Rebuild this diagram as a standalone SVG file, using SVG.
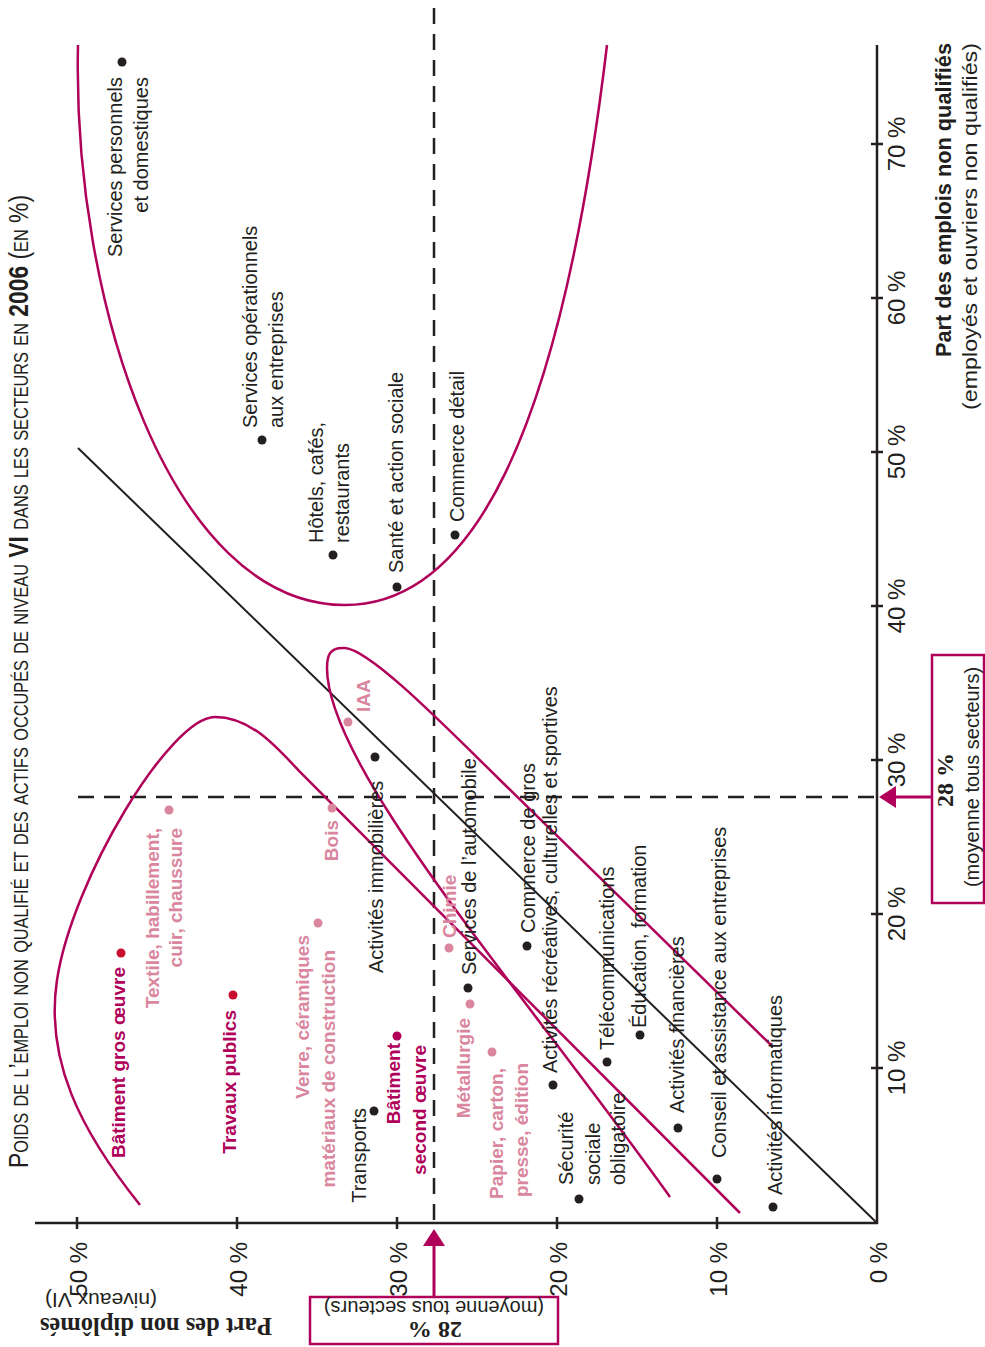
<svg xmlns="http://www.w3.org/2000/svg" width="985" height="1347" viewBox="0 0 985 1347">
<defs>
<style>
.lbl{font-family:"Liberation Sans",Arial,sans-serif;font-size:20px;fill:#231f20}
.pk{font-family:"Liberation Sans",Arial,sans-serif;font-size:19px;font-weight:bold;fill:#d9869e}
.mg{font-family:"Liberation Sans",Arial,sans-serif;font-size:19px;font-weight:bold;fill:#b0005a}
.tick{font-family:"Liberation Sans",Arial,sans-serif;font-size:24px;fill:#231f20}
.ser{font-family:"Liberation Serif","Times New Roman",serif;font-weight:bold;fill:#231f20}
.dot{fill:#231f20}
.dpk{fill:#d9869e}
.dred{fill:#c8102e}
.dmg{fill:#b0005a}
.curve{fill:none;stroke:#b0005a;stroke-width:2.5}
.axis{fill:none;stroke:#231f20;stroke-width:2.5}
.dash{fill:none;stroke:#231f20;stroke-width:2.5;stroke-dasharray:16 10}
.box{fill:#fff;stroke:#b0005a;stroke-width:2.5}
</style>
</defs>
<rect width="985" height="1347" fill="#fff"/>

<!-- title -->
<text id="title" transform="translate(28,1168) rotate(-90)" textLength="973" lengthAdjust="spacingAndGlyphs" style="font-family:'Liberation Sans Narrow','Liberation Sans',Arial,sans-serif;font-size:28px;font-variant:small-caps;fill:#231f20">Poids de l’emploi non qualifié et des actifs occupés de niveau <tspan font-weight="bold">VI</tspan> dans les secteurs en <tspan font-weight="bold">2006</tspan> (en %)</text>

<!-- axes -->
<g id="axes">
<line class="axis" x1="877" y1="45" x2="877" y2="1224"/>
<line class="axis" x1="35" y1="1223" x2="878" y2="1223"/>
<g stroke="#231f20" stroke-width="2.5">
<line x1="871" y1="1068" x2="883" y2="1068"/><line x1="871" y1="914" x2="883" y2="914"/><line x1="871" y1="760" x2="883" y2="760"/><line x1="871" y1="606" x2="883" y2="606"/><line x1="871" y1="452" x2="883" y2="452"/><line x1="871" y1="298" x2="883" y2="298"/><line x1="871" y1="144" x2="883" y2="144"/>
<line x1="717" y1="1217" x2="717" y2="1229"/><line x1="557" y1="1217" x2="557" y2="1229"/><line x1="397" y1="1217" x2="397" y2="1229"/><line x1="237" y1="1217" x2="237" y2="1229"/><line x1="77" y1="1217" x2="77" y2="1229"/>
</g>
<g class="tick" text-anchor="middle">
<text transform="translate(905,1068) rotate(-90)">10 %</text>
<text transform="translate(905,914) rotate(-90)">20 %</text>
<text transform="translate(905,760) rotate(-90)">30 %</text>
<text transform="translate(905,606) rotate(-90)">40 %</text>
<text transform="translate(905,452) rotate(-90)">50 %</text>
<text transform="translate(905,298) rotate(-90)">60 %</text>
<text transform="translate(905,144) rotate(-90)">70 %</text>
</g>
<g class="tick" text-anchor="end">
<text transform="translate(887,1242) rotate(-90)">0 %</text>
<text transform="translate(727,1242) rotate(-90)">10 %</text>
<text transform="translate(567,1242) rotate(-90)">20 %</text>
<text transform="translate(407,1242) rotate(-90)">30 %</text>
<text transform="translate(247,1242) rotate(-90)">40 %</text>
<text transform="translate(87,1242) rotate(-90)">50 %</text>
</g>
<text transform="translate(951,357) rotate(-90)" textLength="314" lengthAdjust="spacingAndGlyphs" style="font-family:'Liberation Sans',Arial,sans-serif;font-size:22px;font-weight:bold;fill:#231f20">Part des emplois non qualifiés</text>
<text transform="translate(977,410) rotate(-90)" textLength="367" lengthAdjust="spacingAndGlyphs" style="font-family:'Liberation Sans',Arial,sans-serif;font-size:21px;fill:#231f20">(employés et ouvriers non qualifiés)</text>
<text class="ser" text-anchor="middle" transform="translate(156,1318) rotate(180)" style="font-size:24.5px">Part des non diplômés</text>
<text class="lbl" text-anchor="middle" transform="translate(101,1293) rotate(180)" style="font-size:21px">(niveaux VI)</text>
</g>

<!-- connectors: averages, diagonal, groupings -->
<g id="connectors">
<line class="dash" x1="434" y1="8" x2="434" y2="1223"/>
<line class="dash" x1="78" y1="797" x2="877" y2="797"/>
<line x1="877" y1="1223" x2="78" y2="448" stroke="#231f20" stroke-width="2"/>
<path id="group-services" class="curve" d="M78,45 C72,300 170,605 345,605 C470,605 560,440 607,45"/>
<path id="group-btp" class="curve" d="M140,1205 C80,1130 45,1060 57,980 C72,880 170,717 215,717 C250,717 275,745 300,772 L740,1213"/>
<path id="group-iaa" class="curve" d="M773,1047 L500,780 C440,721 370,650 345,648 C330,647 327,655 327,668 C327,768 520,987 670,1197"/>
<line x1="932" y1="797" x2="894" y2="797" stroke="#b0005a" stroke-width="3"/>
<polygon points="879,797 896,786 896,808" fill="#b0005a"/>
<line x1="434" y1="1297" x2="434" y2="1244" stroke="#b0005a" stroke-width="3"/>
<polygon points="434,1229 423,1246 445,1246" fill="#b0005a"/>
</g>

<!-- average boxes -->
<g id="avg-x">
<rect class="box" x="932" y="655" width="52" height="248"/>
<text class="ser" text-anchor="middle" transform="translate(953,780) rotate(-90)" style="font-size:24px">28 %</text>
<text class="lbl" text-anchor="middle" transform="translate(979,777) rotate(-90)">(moyenne tous secteurs)</text>
</g>
<g id="avg-y">
<rect class="box" x="310" y="1297" width="248" height="47"/>
<text class="ser" text-anchor="middle" transform="translate(435,1322) rotate(180)" style="font-size:24px">28 %</text>
<text class="lbl" text-anchor="middle" transform="translate(434,1301) rotate(180)">(moyenne tous secteurs)</text>
</g>

<!-- nodes -->
<g id="n-services-perso"><circle class="dot" cx="122" cy="62" r="4.5"/>
<text class="lbl" text-anchor="end" transform="translate(122,77) rotate(-90)">Services personnels</text>
<text class="lbl" text-anchor="end" transform="translate(148,77) rotate(-90)">et domestiques</text></g>
<g id="n-services-oper"><circle class="dot" cx="262" cy="440" r="4.5"/>
<text class="lbl" transform="translate(257,428) rotate(-90)">Services opérationnels</text>
<text class="lbl" transform="translate(283,428) rotate(-90)">aux entreprises</text></g>
<g id="n-hotels"><circle class="dot" cx="333" cy="555" r="4.5"/>
<text class="lbl" transform="translate(323,543) rotate(-90)">Hôtels, cafés,</text>
<text class="lbl" transform="translate(349,543) rotate(-90)">restaurants</text></g>
<g id="n-sante"><circle class="dot" cx="397" cy="587" r="4.5"/>
<text class="lbl" transform="translate(403,573) rotate(-90)">Santé et action sociale</text></g>
<g id="n-commerce-detail"><circle class="dot" cx="455" cy="535" r="4.5"/>
<text class="lbl" transform="translate(464,522) rotate(-90)">Commerce détail</text></g>
<g id="n-iaa"><circle class="dpk" cx="348" cy="722" r="4.5"/>
<text class="pk" transform="translate(370,712) rotate(-90)">IAA</text></g>
<g id="n-immo"><circle class="dot" cx="375" cy="757" r="4.5"/>
<text class="lbl" transform="translate(383,973) rotate(-90)">Activités immobilières</text></g>
<g id="n-bois"><circle class="dpk" cx="332" cy="808" r="4.5"/>
<text class="pk" text-anchor="end" transform="translate(338,820) rotate(-90)">Bois</text></g>
<g id="n-textile"><circle class="dpk" cx="169" cy="810" r="4.5"/>
<text class="pk" text-anchor="end" transform="translate(159,828) rotate(-90)">Textile, habillement,</text>
<text class="pk" text-anchor="end" transform="translate(182,828) rotate(-90)">cuir, chaussure</text></g>
<g id="n-gros-oeuvre"><circle class="dred" cx="121" cy="953" r="4.5"/>
<text class="mg" text-anchor="end" transform="translate(125,967) rotate(-90)">Bâtiment gros œuvre</text></g>
<g id="n-tp"><circle class="dred" cx="233" cy="995" r="4.5"/>
<text class="mg" text-anchor="end" transform="translate(236,1010) rotate(-90)">Travaux publics</text></g>
<g id="n-verre"><circle class="dpk" cx="318" cy="923" r="4.5"/>
<text class="pk" text-anchor="end" transform="translate(309,935) rotate(-90)">Verre, céramiques</text>
<text class="pk" text-anchor="end" transform="translate(335,950) rotate(-90)">matériaux de construction</text></g>
<g id="n-transports"><circle class="dot" cx="374" cy="1111" r="4.5"/>
<text class="lbl" text-anchor="end" transform="translate(366,1108) rotate(-90)">Transports</text></g>
<g id="n-second-oeuvre"><circle class="dmg" cx="397" cy="1036" r="4.5"/>
<text class="mg" text-anchor="end" transform="translate(400,1043) rotate(-90)">Bâtiment</text>
<text class="mg" text-anchor="end" transform="translate(426,1045) rotate(-90)">second œuvre</text></g>
<g id="n-chimie"><circle class="dpk" cx="449" cy="948" r="4.5"/>
<text class="pk" transform="translate(456,938) rotate(-90)">Chimie</text></g>
<g id="n-auto"><circle class="dot" cx="468" cy="988" r="4.5"/>
<text class="lbl" transform="translate(476,975) rotate(-90)">Services de l’automobile</text></g>
<g id="n-metal"><circle class="dpk" cx="470" cy="1004" r="4.5"/>
<text class="pk" text-anchor="end" transform="translate(470,1018) rotate(-90)">Métallurgie</text></g>
<g id="n-papier"><circle class="dpk" cx="492" cy="1052" r="4.5"/>
<text class="pk" text-anchor="end" transform="translate(503,1068) rotate(-90)">Papier, carton,</text>
<text class="pk" text-anchor="end" transform="translate(528,1063) rotate(-90)">presse, édition</text></g>
<g id="n-commerce-gros"><circle class="dot" cx="527" cy="946" r="4.5"/>
<text class="lbl" transform="translate(535,933) rotate(-90)">Commerce de gros</text></g>
<g id="n-recreatives"><circle class="dot" cx="553" cy="1085" r="4.5"/>
<text class="lbl" transform="translate(557,1073) rotate(-90)">Activités récréatives, culturelles et sportives</text></g>
<g id="n-secu"><circle class="dot" cx="579" cy="1199" r="4.5"/>
<text class="lbl" transform="translate(573,1185) rotate(-90)">Sécurité</text>
<text class="lbl" transform="translate(600,1185) rotate(-90)">sociale</text>
<text class="lbl" transform="translate(625,1185) rotate(-90)">obligatoire</text></g>
<g id="n-telecom"><circle class="dot" cx="607" cy="1062" r="4.5"/>
<text class="lbl" transform="translate(614,1050) rotate(-90)">Télécommunications</text></g>
<g id="n-education"><circle class="dot" cx="640" cy="1035" r="4.5"/>
<text class="lbl" transform="translate(646,1028) rotate(-90)">Éducation, formation</text></g>
<g id="n-financieres"><circle class="dot" cx="678" cy="1128" r="4.5"/>
<text class="lbl" transform="translate(684,1113) rotate(-90)">Activités financières</text></g>
<g id="n-conseil"><circle class="dot" cx="717" cy="1179" r="4.5"/>
<text class="lbl" transform="translate(726,1158) rotate(-90)">Conseil et assistance aux entreprises</text></g>
<g id="n-informatiques"><circle class="dot" cx="773" cy="1207" r="4.5"/>
<text class="lbl" transform="translate(782,1195) rotate(-90)">Activités informatiques</text></g>
</svg>
